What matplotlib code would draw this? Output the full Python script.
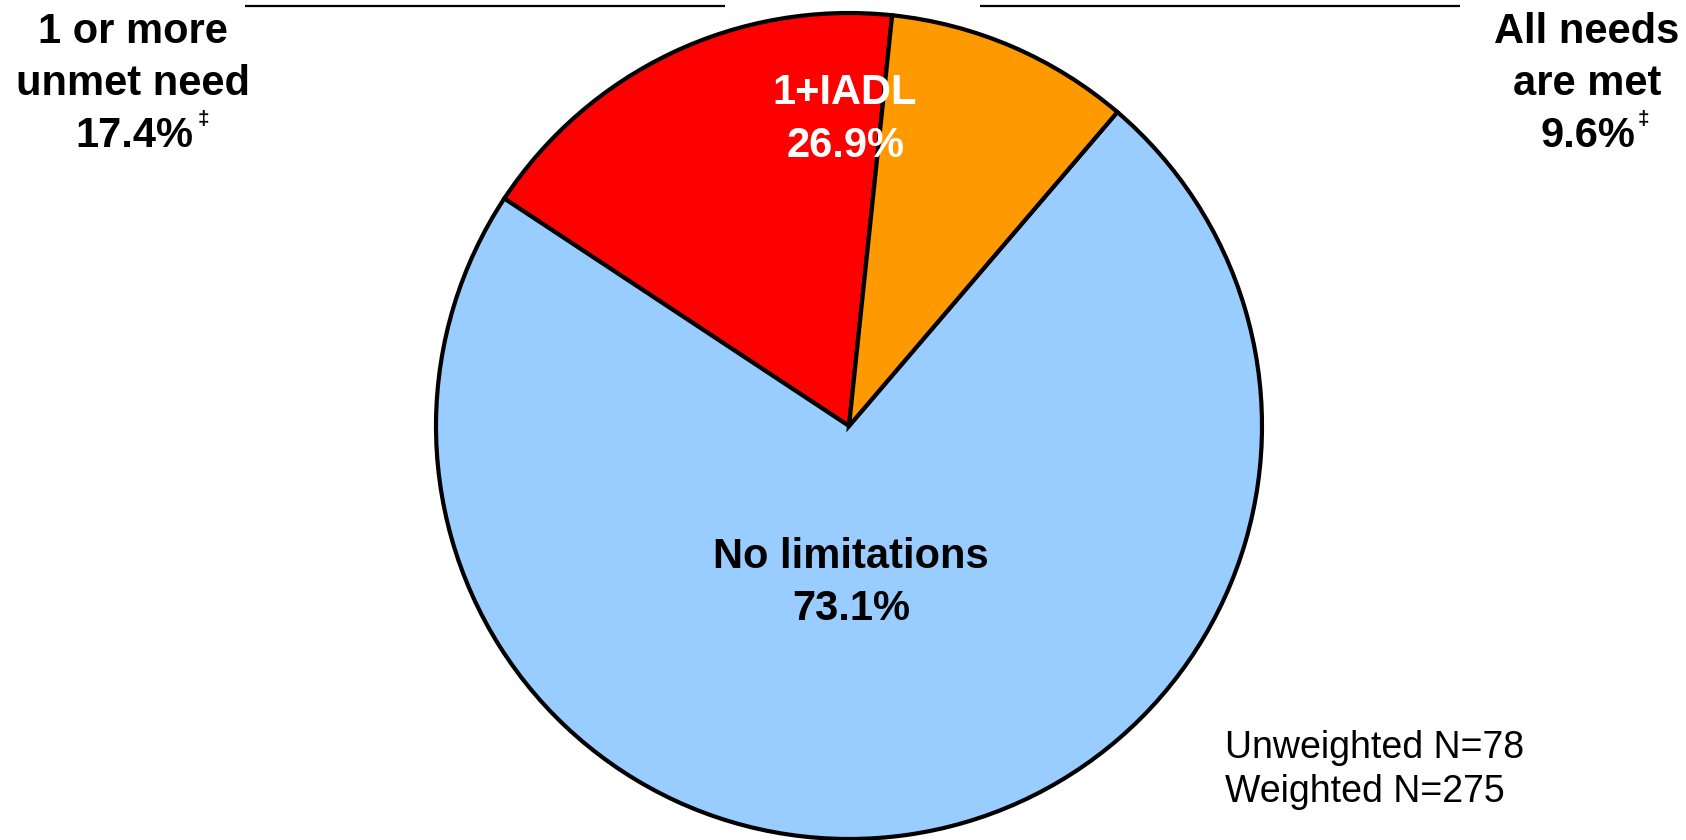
#!/usr/bin/env python
# pie chart of unmet needs, drawn in pixel-like data coordinates
import matplotlib
matplotlib.use('Agg')
import matplotlib.pyplot as plt

plt.rcParams['font.family'] = ['Liberation Sans', 'DejaVu Sans']

# data
slices = ['1 or more unmet need', 'No limitations', 'All needs are met']
shares = [17.4, 73.1, 9.6]
colors = ['#FF0000', '#99CCFF', '#FF9900']
group_label = ['1+IADL', '26.9%']
main_label = ['No limitations', '73.1%']
left_label = ['1 or more', 'unmet need', '17.4%']
right_label = ['All needs', 'are met', '9.6%']
n_text = ['Unweighted N=78', 'Weighted N=275']

W, H = 1686, 840
fig = plt.figure(figsize=(W / 100, H / 100), dpi=100)
ax = fig.add_axes([0, 0, 1, 1])

def Y(y):
    # image row -> data y
    return H - y

ax.pie(shares, colors=colors, startangle=84, counterclock=True,
       center=(849, Y(426)), radius=413, frame=True,
       wedgeprops=dict(edgecolor='black', linewidth=3))

ax.set_xlim(0, W)
ax.set_ylim(0, H)
ax.set_aspect('equal')
ax.axis('off')

# thin lines at the top
ax.plot([245, 725], [Y(6), Y(6)], color='black', lw=1.6, solid_capstyle='butt')
ax.plot([980, 1460], [Y(6), Y(6)], color='black', lw=1.6, solid_capstyle='butt')

fs = 30
# white label inside red slice
ax.text(845, Y(104), group_label[0], ha='center', va='baseline', fontsize=fs,
        fontweight='bold', color='white')
ax.text(845, Y(157), group_label[1], ha='center', va='baseline', fontsize=fs,
        fontweight='bold', color='white')

# main label
ax.text(851, Y(568), main_label[0], ha='center', va='baseline', fontsize=fs,
        fontweight='bold', color='black')
ax.text(851, Y(620), main_label[1], ha='center', va='baseline', fontsize=fs,
        fontweight='bold', color='black')

# side labels
base = [43, 95, 147]
for i in range(2):
    ax.text(133, Y(base[i]), left_label[i], ha='center', va='baseline',
            fontsize=fs, fontweight='bold')
    ax.text(1587, Y(base[i]), right_label[i], ha='center', va='baseline',
            fontsize=fs, fontweight='bold')
ax.text(193, Y(147), left_label[2], ha='right', va='baseline',
        fontsize=fs, fontweight='bold')
ax.text(1635, Y(147), right_label[2], ha='right', va='baseline',
        fontsize=fs, fontweight='bold')
ax.text(198, Y(125), '\u2021', ha='left', va='baseline', fontsize=15,
        fontweight='bold')
ax.text(1638, Y(125), '\u2021', ha='left', va='baseline', fontsize=15,
        fontweight='bold')

# sample sizes
ax.text(1225, Y(758), n_text[0], ha='left', va='baseline', fontsize=27)
ax.text(1225, Y(802), n_text[1], ha='left', va='baseline', fontsize=27)

fig.savefig('out.png', dpi=100, facecolor='white')
